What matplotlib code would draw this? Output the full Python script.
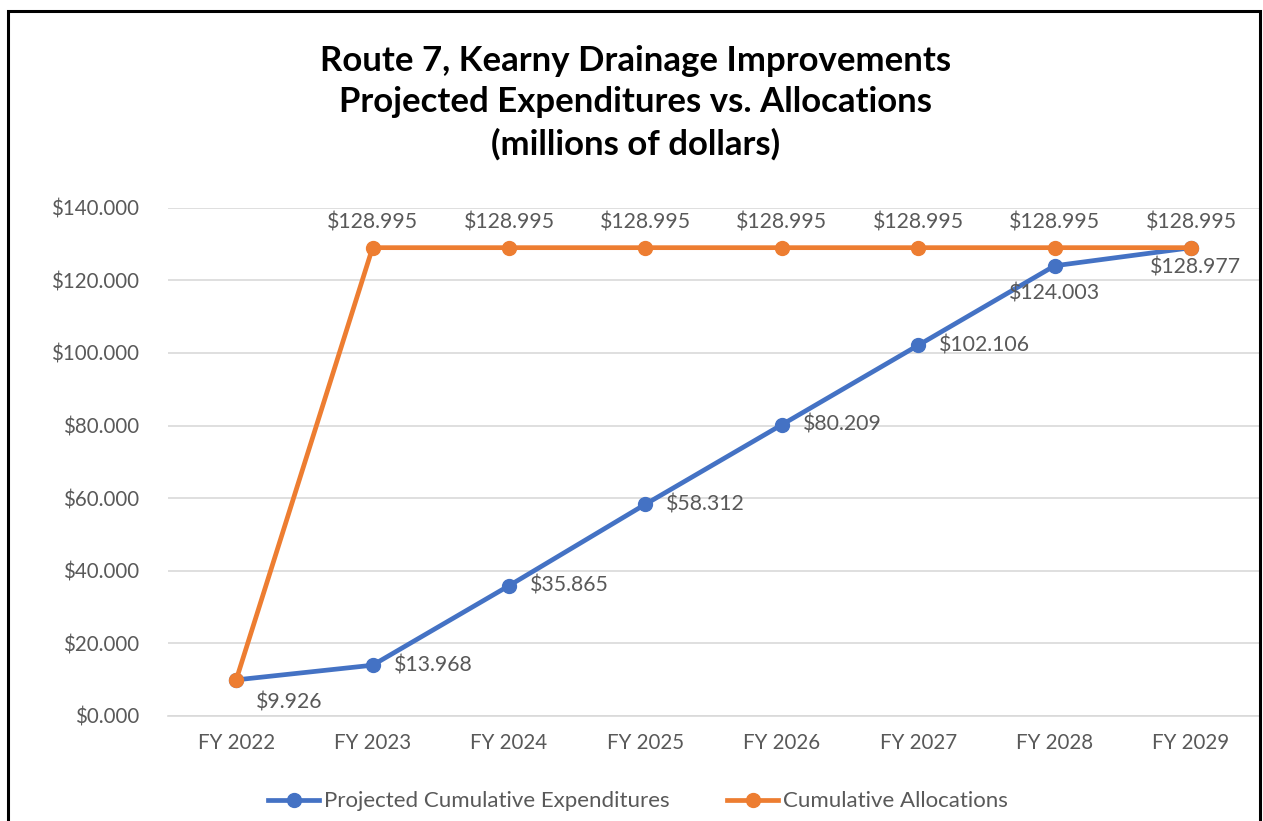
import matplotlib.pyplot as plt
from matplotlib.patches import Rectangle

years = ["FY 2022", "FY 2023", "FY 2024", "FY 2025", "FY 2026", "FY 2027", "FY 2028", "FY 2029"]
expenditures = [9.926, 13.968, 35.865, 58.312, 80.209, 102.106, 124.003, 128.977]
allocations = [9.926, 128.995, 128.995, 128.995, 128.995, 128.995, 128.995, 128.995]

blue = "#4472C4"
orange = "#ED7D31"
grey = "#595959"

plt.rcParams['font.family'] = ['Lato', 'DejaVu Sans']

fig = plt.figure(figsize=(12.63, 8.21), dpi=100)
ax = fig.add_axes([0.133, 0.128, 0.864, 0.619])

x = list(range(len(years)))
ax.plot(x, expenditures, color=blue, lw=3.4, marker="o", ms=10, label="Projected Cumulative Expenditures", zorder=3)
ax.plot(x, allocations, color=orange, lw=3.4, marker="o", ms=10, label="Cumulative Allocations", zorder=4)

# labels for expenditures: mostly to the right, last ones below
for i, v in enumerate(expenditures):
    txt = f"${v:.3f}"
    if i == 0:
        ax.annotate(txt, (i, v), xytext=(14, -16), textcoords="offset points",
                    ha="left", va="center", fontsize=15.3, color=grey)
    elif i == 6:
        ax.annotate(txt, (i, v), xytext=(0, -20), textcoords="offset points",
                    ha="center", va="center", fontsize=15.3, color=grey)
    elif i == 7:
        ax.annotate(txt, (i, v), xytext=(3, -14), textcoords="offset points",
                    ha="center", va="center", fontsize=15.3, color=grey)
    else:
        ax.annotate(txt, (i, v), xytext=(15, 0), textcoords="offset points",
                    ha="left", va="center", fontsize=15.3, color=grey)

for i, v in enumerate(allocations):
    if i == 0:
        continue
    ax.annotate(f"${v:.3f}", (i, v), xytext=(0, 18), textcoords="offset points",
                ha="center", va="center", fontsize=15.3, color=grey)

ax.set_xlim(-0.5, len(years) - 0.5)
ax.set_ylim(0, 140)
ax.set_yticks(range(0, 141, 20))
ax.set_yticklabels([f"${t}.000" for t in range(0, 141, 20)])
ax.set_xticks(x)
ax.set_xticklabels(years)
ax.tick_params(axis="both", length=0, labelsize=14.8, colors=grey, pad=12)
ax.tick_params(axis="y", pad=21)
ax.grid(axis="y", color="#D9D9D9", lw=1.2)
ax.set_axisbelow(True)
for s in ["top", "right", "left"]:
    ax.spines[s].set_visible(False)
ax.spines["bottom"].set_color("#D9D9D9")
ax.spines["bottom"].set_linewidth(1.2)

fig.text(0.503, 0.945, "Route 7, Kearny Drainage Improvements\nProjected Expenditures vs. Allocations\n(millions of dollars)",
         ha="center", va="top", fontsize=25, fontweight="bold", linespacing=1.35)

fig.legend(loc="center", bbox_to_anchor=(0.505, 0.024), ncol=2, frameon=False,
           fontsize=16, labelcolor=grey, handlelength=2.3, columnspacing=2.6, handletextpad=0.2)

fig.patches.append(Rectangle((0.0065, -0.05), 0.991, 1.037, transform=fig.transFigure,
                             fill=False, edgecolor="black", lw=2.2))

fig.savefig("out.png", dpi=100)
